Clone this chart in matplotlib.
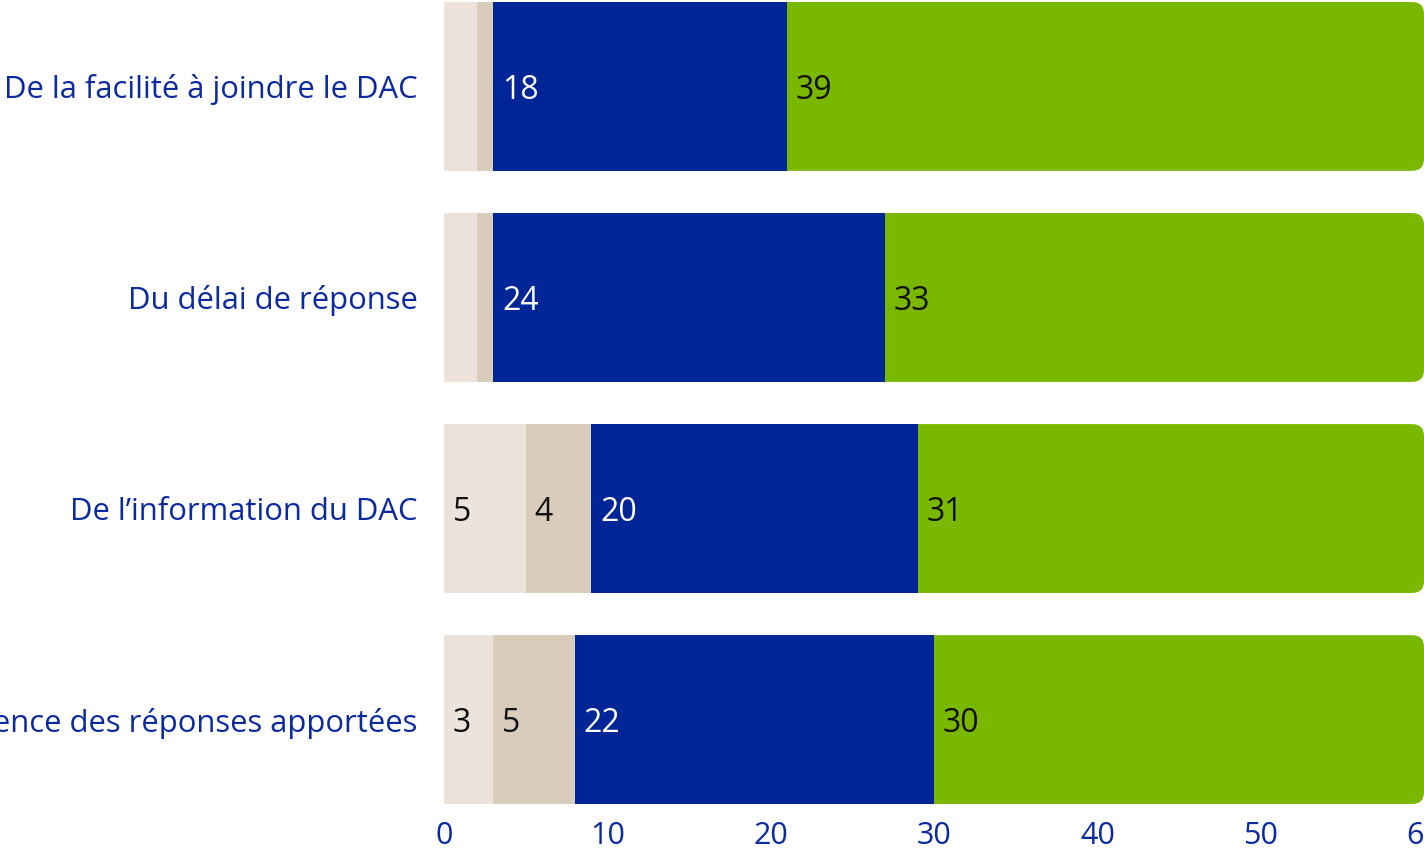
import matplotlib
matplotlib.use("Agg")
import matplotlib.pyplot as plt
from matplotlib.patches import FancyBboxPatch
import numpy as np

plt.rcParams['font.family'] = ['Open Sans', 'DejaVu Sans']

categories = [
    "De la facilité à joindre le DAC",
    "Du délai de réponse",
    "De l\u2019information du DAC",
    "De la pertinence des réponses apportées",
]
pas_du_tout = [2, 2, 5, 3]
plutot_pas = [1, 1, 4, 5]
plutot = [18, 24, 20, 22]
tout_a_fait = [39, 33, 31, 30]
x_ticks = [0, 10, 20, 30, 40, 50, 60]

series = [pas_du_tout, plutot_pas, plutot, tout_a_fait]
colors = ["#ebe3dc", "#d9ccbb", "#002596", "#7ab800"]
text_colors = ["#111111", "#111111", "#ffffff", "#111111"]
label_color = "#0b2a9e"

W, H = 1424, 852
fig = plt.figure(figsize=(W / 100, H / 100), dpi=100)
ax = fig.add_axes([444 / W, 48 / H, 1 - 444 / W, 802 / H])
ax.set_xlim(0, 60)
ax.set_ylim(3.4, -0.4)

y = np.arange(len(categories))
bar_h = 0.8
px_x = ax.get_position().width * W / 60
px_y = ax.get_position().height * H / 3.8
radius_px = 12

left = np.zeros(len(categories))
for i, (vals, col, tcol) in enumerate(zip(series, colors, text_colors)):
    vals = np.array(vals, dtype=float)
    if i == len(series) - 1:
        # last segment: rounded right end, tucked under the previous segment
        bars = ax.barh(y, vals, left=left, height=bar_h, color=col, alpha=0)
        for b in bars:
            x0 = b.get_x() - 2
            w = b.get_width() + 2
            patch = FancyBboxPatch(
                (x0, b.get_y()), w, b.get_height(),
                boxstyle=f"round,pad=0,rounding_size={radius_px / px_x}",
                mutation_aspect=px_x / px_y,
                facecolor=col, edgecolor="none", zorder=1)
            ax.add_patch(patch)
    else:
        bars = ax.barh(y, vals, left=left, height=bar_h, color=col,
                       edgecolor="none", zorder=2)
    for yi, v, l in zip(y, vals, left):
        if v >= 3:
            ax.text(l + 9 / px_x, yi, f"{int(v)}", color=tcol,
                    fontsize=23, va="center_baseline", ha="left", zorder=5)
    left = left + vals

ax.set_yticks(y)
ax.set_yticklabels(categories, fontsize=22.3, color=label_color)
for t in ax.get_yticklabels():
    t.set_va("center_baseline")
ax.set_xticks(x_ticks)
ax.set_xticklabels([str(t) for t in x_ticks], fontsize=22, color=label_color)
ax.tick_params(axis="y", length=0, pad=19)
ax.tick_params(axis="x", length=0, pad=12)
for s in ax.spines.values():
    s.set_visible(False)

fig.savefig("out.png", dpi=100)
